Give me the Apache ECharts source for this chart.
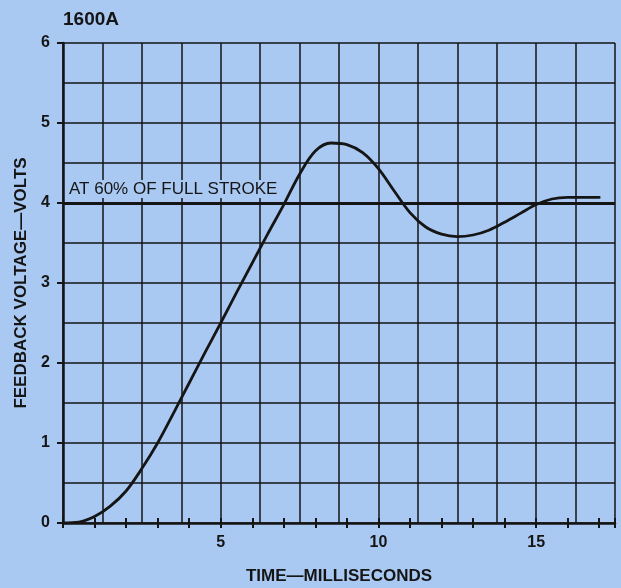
<!DOCTYPE html>
<html>
<head>
<meta charset="utf-8">
<title>1600A</title>
<script src="https://cdn.jsdelivr.net/npm/echarts@6/dist/echarts.min.js"></script>
<style>
  html, body { margin: 0; padding: 0; background: #a9c9f2; }
  #chart_feedback { width: 621px; height: 588px; }
</style>
</head>
<body>
<div id="chart_feedback"></div>
<script>
// 曲线数据（读图估计，每 0.5ms 一个点）
var timeMs = [0, 0.5, 1.0, 1.5, 2.0, 2.5, 3.0, 3.5, 4.0, 4.5, 5.0, 5.5, 6.0, 6.5, 7.0, 7.5, 8.0, 8.5, 9.0, 9.5, 10.0, 10.5, 11.0, 11.5, 12.0, 12.5, 13.0, 13.5, 14.0, 14.5, 15.0, 15.5, 16.0, 16.5, 17.0];
var feedbackVolts = [0, 0.01, 0.08, 0.21, 0.4, 0.68, 1.0, 1.37, 1.75, 2.13, 2.5, 2.88, 3.25, 3.62, 3.98, 4.36, 4.65, 4.75, 4.73, 4.63, 4.43, 4.15, 3.88, 3.7, 3.61, 3.58, 3.6, 3.66, 3.76, 3.87, 3.98, 4.05, 4.07, 4.07, 4.07];
var refLevel = 4;
var refLabel = 'AT 60% OF FULL STROKE';
var xLabelValues = [5, 10, 15];
var yLabelValues = [0, 1, 2, 3, 4, 5, 6];

var ink = '#151515';
var bg = '#a9c9f2';
var font = '"Liberation Sans", Arial, sans-serif';

var utils = {
  init: function(item) {
    var chart = echarts.init(document.getElementById(item.id));
    chart.setOption(item.option);
  },
  pairs: function(xs, ys) {
    return xs.map(function(x, i) { return [x, ys[i]]; });
  }
};

var chart = {
  id: 'chart_feedback',
  option: {
    backgroundColor: bg,
    animation: false,
    textStyle: { fontFamily: font },
    title: {
      text: '1600A',
      left: 58,
      top: 5,
      textStyle: { fontFamily: font, fontSize: 19, fontWeight: 'bold', color: ink }
    },
    grid: { left: 63, top: 43, right: 6, bottom: 65, containLabel: false, outerBoundsMode: 'none' },
    xAxis: [
      // 网格线 1.25ms
      {
        type: 'value', min: 0, max: 17.5, interval: 1.25, position: 'bottom',
        axisLine: { show: false }, axisTick: { show: false }, axisLabel: { show: false },
        splitLine: { show: true, lineStyle: { color: ink, width: 1.5 } }
      },
      // 刻度与标签
      {
        type: 'value', min: 0, max: 17.5, interval: 1, position: 'bottom',
        name: 'TIME—MILLISECONDS', nameLocation: 'middle', nameGap: 45,
        nameTextStyle: { fontFamily: font, fontSize: 17, fontWeight: 'bold', color: ink },
        axisLine: { show: true, lineStyle: { color: ink, width: 2.5 } },
        axisTick: { show: true, length: 5, lineStyle: { color: ink, width: 2 } },
        axisLabel: {
          margin: 12, fontFamily: font, fontSize: 16, fontWeight: 'bold', color: ink,
          formatter: function(v) { return xLabelValues.indexOf(v) >= 0 ? String(v) : ''; }
        },
        splitLine: { show: false }
      },
      {
        type: 'value', min: 0, max: 17.5, interval: 1, position: 'bottom',
        axisLine: { show: false }, axisLabel: { show: false }, splitLine: { show: false },
        axisTick: { show: true, inside: true, length: 5, lineStyle: { color: ink, width: 2 } }
      }
    ],
    yAxis: [
      {
        type: 'value', min: 0, max: 6, interval: 0.5, position: 'left',
        axisLine: { show: false }, axisTick: { show: false }, axisLabel: { show: false },
        splitLine: { show: true, lineStyle: { color: ink, width: 1.5 } }
      },
      {
        type: 'value', min: 0, max: 6, interval: 1, position: 'left',
        name: 'FEEDBACK VOLTAGE—VOLTS', nameLocation: 'middle', nameGap: 33, nameRotate: 90,
        nameTextStyle: { fontFamily: font, fontSize: 17, fontWeight: 'bold', color: ink },
        axisLine: { show: true, lineStyle: { color: ink, width: 2.5 } },
        axisTick: { show: true, length: 6, lineStyle: { color: ink, width: 2 } },
        axisLabel: {
          margin: 13, fontFamily: font, fontSize: 16, fontWeight: 'bold', color: ink,
          formatter: function(v) { return yLabelValues.indexOf(v) >= 0 ? String(v) : ''; }
        },
        splitLine: { show: false }
      }
    ],
    series: [
      {
        type: 'line',
        xAxisIndex: 0,
        yAxisIndex: 0,
        data: utils.pairs(timeMs, feedbackVolts),
        smooth: 0.35,
        showSymbol: false,
        lineStyle: { color: ink, width: 2.8, cap: 'round' },
        markLine: {
          silent: true,
          symbol: 'none',
          lineStyle: { color: ink, width: 3, type: 'solid' },
          label: {
            show: true,
            position: 'insideStartTop',
            formatter: refLabel,
            distance: [4, 5],
            fontFamily: font,
            fontSize: 17,
            color: ink,
            backgroundColor: bg,
            padding: [1, 2, 0, 2]
          },
          data: [{ yAxis: refLevel }]
        }
      }
    ]
  }
};

// 启动图表
utils.init(chart);
</script>
</body>
</html>
